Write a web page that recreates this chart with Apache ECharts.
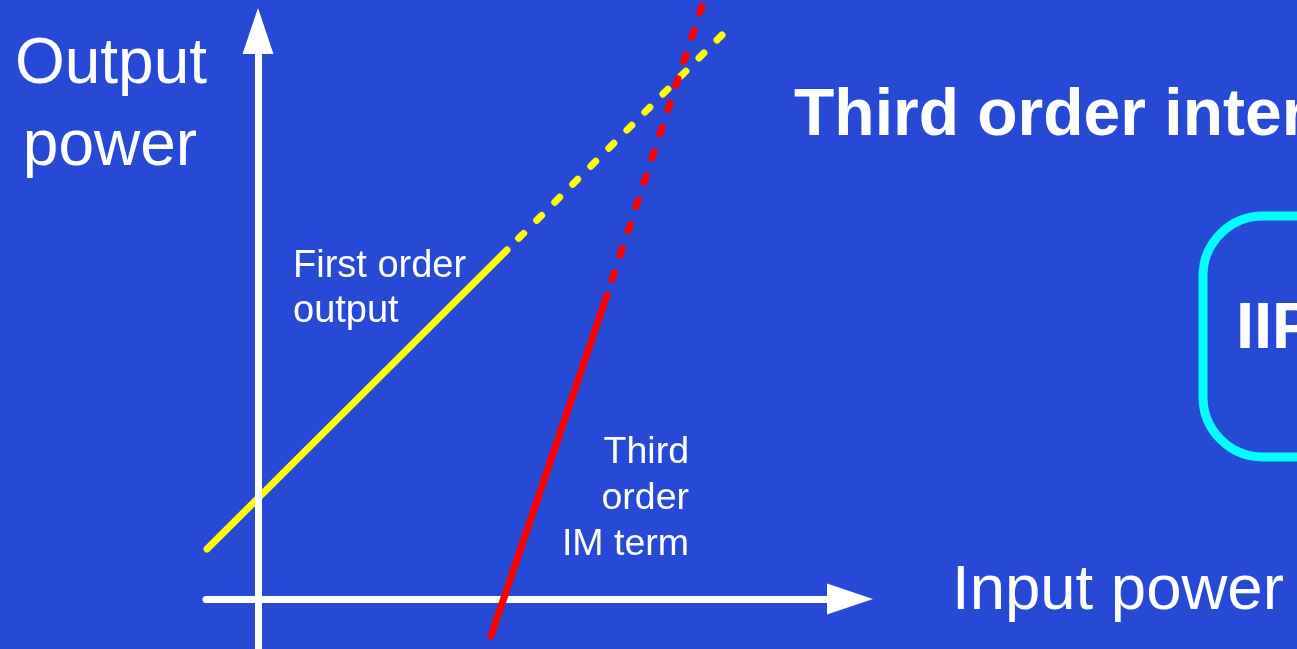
<!DOCTYPE html>
<html>
<head>
<meta charset="utf-8">
<script src="https://cdn.jsdelivr.net/npm/echarts@6/dist/echarts.min.js"></script>
<style>
  html, body { margin: 0; padding: 0; background: #2649d6; }
  #main { width: 1297px; height: 649px; }
</style>
</head>
<body>
<div id="main"></div>
<script>
// input / output power, same units on both axes
var xRange = [-5.2, 59.2];
var yRange = [-5, 56.8];

var firstOrderSolid = [[-5.1, 5.0], [24.9, 34.9]];
var firstOrderDashed = [[24.9, 34.9], [46.4, 56.4]];
var thirdOrderSolid = [[23.3, -3.7], [34.9, 30.4]];
var thirdOrderDashed = [[34.9, 30.4], [44.6, 59.9]];

var font = '"Liberation Sans", Arial, sans-serif';

function label(text, x, y, size, align, bold) {
    return {
        type: 'text',
        silent: true,
        z: 10,
        style: {
            text: text,
            x: x,
            y: y,
            fill: '#ffffff',
            font: (bold ? 'bold ' : '') + size + 'px ' + font,
            textAlign: align,
            textVerticalAlign: 'middle'
        }
    };
}

var Mychart = echarts.init(document.getElementById('main'));
var option = {
    backgroundColor: '#2649d6',
    animation: false,
    grid: { left: 206, right: 447, top: 31, bottom: 0 },
    xAxis: {
        type: 'value',
        min: xRange[0],
        max: xRange[1],
        z: 1,
        axisLine: {
            onZero: true,
            symbol: ['none', 'triangle'],
            symbolSize: [31, 46],
            lineStyle: { color: '#ffffff', width: 7, cap: 'round' }
        },
        axisTick: { show: false },
        axisLabel: { show: false },
        splitLine: { show: false }
    },
    yAxis: {
        type: 'value',
        min: yRange[0],
        max: yRange[1],
        z: 3,
        axisLine: {
            onZero: true,
            symbol: ['none', 'triangle'],
            symbolSize: [31, 46],
            lineStyle: { color: '#ffffff', width: 7 }
        },
        axisTick: { show: false },
        axisLabel: { show: false },
        splitLine: { show: false }
    },
    series: [{
        name: 'First order output',
        type: 'line',
        data: firstOrderSolid,
        showSymbol: false,
        clip: false,
        z: 2,
        lineStyle: { color: '#ffff00', width: 7, cap: 'round' }
    }, {
        name: 'First order extrapolated',
        type: 'line',
        data: firstOrderDashed,
        showSymbol: false,
        clip: false,
        z: 2,
        lineStyle: { color: '#ffff00', width: 7, cap: 'round', type: [7, 18.5], dashOffset: 9 }
    }, {
        name: 'Third order IM term',
        type: 'line',
        data: thirdOrderSolid,
        showSymbol: false,
        clip: false,
        z: 4,
        lineStyle: { color: '#ff0000', width: 7, cap: 'round' }
    }, {
        name: 'Third order extrapolated',
        type: 'line',
        data: thirdOrderDashed,
        showSymbol: false,
        clip: false,
        z: 4,
        lineStyle: { color: '#ff0000', width: 7, cap: 'round', type: [7, 18.5], dashOffset: 9 }
    }],
    graphic: [
        label('Output', 111, 65, 64, 'center'),
        label('power', 110, 147, 64, 'center'),
        label('Input power', 952, 591, 63.5, 'left'),
        label('Third order intercept', 794, 117, 66, 'left', true),
        label('First order', 293, 267, 38, 'left'),
        label('output', 293, 312, 38, 'left'),
        label('Third', 689, 453, 37.5, 'right'),
        label('order', 689, 499, 37.5, 'right'),
        label('IM term', 689, 545, 37.5, 'right'),
        {
            type: 'rect',
            silent: true,
            z: 10,
            shape: { x: 1203, y: 216, width: 220, height: 241, r: 60 },
            style: { fill: 'none', stroke: '#00ffff', lineWidth: 9 }
        },
        label('IIP3', 1236, 330, 65, 'left', true)
    ]
};
Mychart.setOption(option);
</script>
</body>
</html>
